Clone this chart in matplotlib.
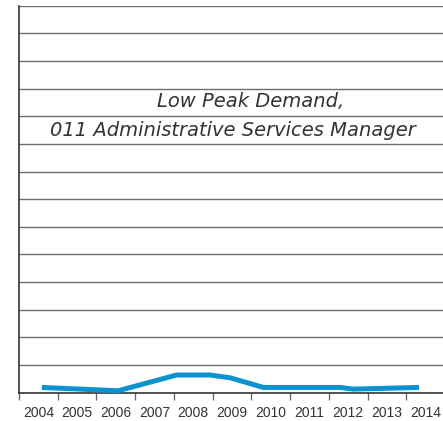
import numpy as np
import matplotlib
matplotlib.use("Agg")
import matplotlib.pyplot as plt

# data (x in fractional years, y in grid units)
years = [2004, 2005, 2006, 2007, 2008, 2009, 2010, 2011, 2012, 2013, 2014]
x_pts = [2004.59, 2006.56, 2008.07, 2008.93, 2009.45, 2010.31, 2012.29, 2012.63, 2014.33]
demand = [0.19, 0.07, 0.64, 0.64, 0.54, 0.19, 0.19, 0.13, 0.19]
title_lines = ["Low Peak Demand,", "011 Administrative Services Manager"]

plt.rcParams['font.family'] = ['Liberation Sans', 'DejaVu Sans']

fig = plt.figure(figsize=(4.43, 4.21), dpi=100)
ax = fig.add_axes([19/443, 28.3/421, 426/443, 387/421])

# horizontal grid lines
for g in range(1, 15):
    ax.axhline(g, color='#6e6e6e', lw=1.0, zorder=1)

ax.plot(x_pts, demand, color='#0a93cf', lw=3.6, solid_capstyle='butt',
        solid_joinstyle='round', zorder=3)

ax.set_xlim(2004, 2015)
ax.set_ylim(0, 14)

ax.spines['top'].set_visible(False)
ax.spines['right'].set_visible(False)
ax.spines['left'].set_color('#333333')
ax.spines['bottom'].set_color('#333333')
ax.spines['left'].set_linewidth(1.2)
ax.spines['bottom'].set_linewidth(1.2)

ax.set_yticks([])
ax.set_xticks(years)
ax.set_xticklabels([])
ax.tick_params(axis='x', which='major', length=5, width=0.9, color='#666666')
ax.set_xticks([y + 0.5 for y in years], minor=True)
ax.set_xticklabels([str(y) for y in years], minor=True)
ax.tick_params(axis='x', which='minor', length=0, pad=9.5, labelsize=10,
               labelcolor='#333333')

ax.text(2009.99, 10.55, title_lines[0], ha='center', va='center',
        style='italic', fontsize=14, color='#333333', family='DejaVu Sans')
ax.text(2009.53, 9.47, title_lines[1], ha='center', va='center',
        style='italic', fontsize=14, color='#333333', family='DejaVu Sans')

fig.savefig("out.png", dpi=100)
